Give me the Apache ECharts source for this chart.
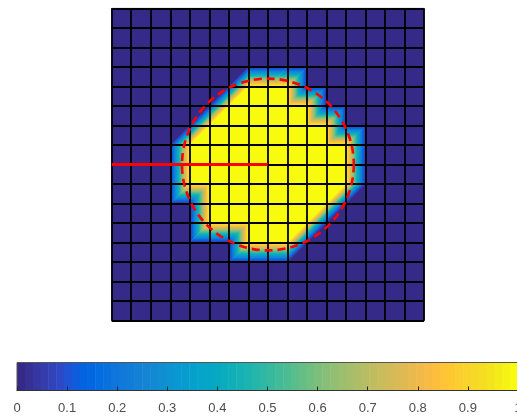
<!DOCTYPE html>
<html><head><meta charset="utf-8">
<script src="https://cdn.jsdelivr.net/npm/echarts@6/dist/echarts.min.js"></script>
<style>html,body{margin:0;padding:0;background:#fff;}#c{width:517px;height:417px;}</style>
</head><body><div id="c"></div>
<script>
// node values (17 x 17), row 0 = top of the picture
const nodeValues = [
  [0,0,0,0,0,0,0,0,0,0,0,0,0,0,0,0,0],
  [0,0,0,0,0,0,0,0,0,0,0,0,0,0,0,0,0],
  [0,0,0,0,0,0,0,0,0,0,0,0,0,0,0,0,0],
  [0,0,0,0,0,0,0,0,0,0,0,0,0,0,0,0,0],
  [0,0,0,0,0,0,0,1,1,1,0,0,0,0,0,0,0],
  [0,0,0,0,0,0,1,1,1,1,1,0,0,0,0,0,0],
  [0,0,0,0,0,1,1,1,1,1,1,1,0,0,0,0,0],
  [0,0,0,0,1,1,1,1,1,1,1,1,1,0,0,0,0],
  [0,0,0,0,1,1,1,1,1,1,1,1,1,0,0,0,0],
  [0,0,0,0,1,1,1,1,1,1,1,1,1,0,0,0,0],
  [0,0,0,0,0,1,1,1,1,1,1,1,0,0,0,0,0],
  [0,0,0,0,0,1,1,1,1,1,1,0,0,0,0,0,0],
  [0,0,0,0,0,0,0,1,1,1,0,0,0,0,0,0,0],
  [0,0,0,0,0,0,0,0,0,0,0,0,0,0,0,0,0],
  [0,0,0,0,0,0,0,0,0,0,0,0,0,0,0,0,0],
  [0,0,0,0,0,0,0,0,0,0,0,0,0,0,0,0,0],
  [0,0,0,0,0,0,0,0,0,0,0,0,0,0,0,0,0]
];
const circleCenter = [8, 8];
const circleRadius = 4.4;
const profileLine = [[0, 8], [8, 8]];
const colorbarTickLabels = ['0','0.1','0.2','0.3','0.4','0.5','0.6','0.7','0.8','0.9','1'];
const parula = [
[0.2081,0.1663,0.5292],[0.2116,0.1898,0.5777],[0.2123,0.2138,0.6270],[0.2081,0.2386,0.6771],
[0.1959,0.2645,0.7279],[0.1707,0.2919,0.7792],[0.1253,0.3242,0.8303],[0.0591,0.3598,0.8683],
[0.0117,0.3875,0.8820],[0.0060,0.4086,0.8828],[0.0165,0.4266,0.8786],[0.0329,0.4430,0.8720],
[0.0498,0.4586,0.8641],[0.0629,0.4737,0.8554],[0.0723,0.4887,0.8467],[0.0779,0.5040,0.8384],
[0.0793,0.5200,0.8312],[0.0749,0.5375,0.8263],[0.0641,0.5570,0.8240],[0.0488,0.5772,0.8228],
[0.0343,0.5966,0.8199],[0.0265,0.6137,0.8135],[0.0239,0.6287,0.8038],[0.0231,0.6418,0.7913],
[0.0228,0.6535,0.7768],[0.0267,0.6642,0.7607],[0.0384,0.6743,0.7436],[0.0590,0.6838,0.7254],
[0.0843,0.6928,0.7062],[0.1133,0.7015,0.6859],[0.1453,0.7098,0.6646],[0.1801,0.7177,0.6424],
[0.2178,0.7250,0.6193],[0.2586,0.7317,0.5954],[0.3022,0.7376,0.5712],[0.3482,0.7424,0.5473],
[0.3953,0.7459,0.5244],[0.4420,0.7481,0.5033],[0.4871,0.7491,0.4840],[0.5300,0.7491,0.4661],
[0.5709,0.7485,0.4494],[0.6099,0.7473,0.4337],[0.6473,0.7456,0.4188],[0.6834,0.7435,0.4044],
[0.7184,0.7411,0.3905],[0.7525,0.7384,0.3768],[0.7858,0.7356,0.3633],[0.8185,0.7327,0.3498],
[0.8507,0.7299,0.3360],[0.8824,0.7274,0.3217],[0.9139,0.7258,0.3063],[0.9450,0.7261,0.2886],
[0.9739,0.7314,0.2666],[0.9938,0.7455,0.2403],[0.9990,0.7653,0.2164],[0.9955,0.7861,0.1967],
[0.9880,0.8066,0.1794],[0.9789,0.8271,0.1633],[0.9697,0.8481,0.1475],[0.9626,0.8705,0.1309],
[0.9589,0.8949,0.1132],[0.9598,0.9218,0.0948],[0.9661,0.9514,0.0755],[0.9763,0.9831,0.0538]
];

function rgb(c){return 'rgb('+Math.round(c[0]*255)+','+Math.round(c[1]*255)+','+Math.round(c[2]*255)+')';}
function colorOf(v){const k=Math.max(0,Math.min(63,Math.round(v*63)));return rgb(parula[k]);}
const stops = parula.map((c,k)=>({offset:k/63,color:rgb(c)}));

const cells = [];
for (let j=0;j<nodeValues.length-1;j++){
  for (let i=0;i<nodeValues[j].length-1;i++){
    cells.push([i,j,nodeValues[j][i],nodeValues[j][i+1],nodeValues[j+1][i],nodeValues[j+1][i+1]]);
  }
}

function triFill(P,V){
  if (V[0]===V[1] && V[1]===V[2]) return colorOf(V[0]);
  const ax=P[1][0]-P[0][0], ay=P[1][1]-P[0][1], bx=P[2][0]-P[0][0], by=P[2][1]-P[0][1];
  const dv1=V[1]-V[0], dv2=V[2]-V[0];
  const det=ax*by-ay*bx;
  const gx=(dv1*by-ay*dv2)/det, gy=(ax*dv2-bx*dv1)/det;
  const g2=gx*gx+gy*gy;
  return {type:'linear',
    x:P[0][0]-V[0]*gx/g2, y:P[0][1]-V[0]*gy/g2,
    x2:P[0][0]+(1-V[0])*gx/g2, y2:P[0][1]+(1-V[0])*gy/g2,
    colorStops:stops, global:true};
}

const chart = echarts.init(document.getElementById('c'), null, {renderer:'canvas'});
const fontFam = '"Liberation Sans", Arial, Helvetica, sans-serif';
chart.setOption({
  animation:false,
  backgroundColor:'#fff',
  grid:[
    {left:111.7, top:8.3, width:312.4, height:312.4, containLabel:false, outerBoundsMode:'none'},
    {left:17, top:362.5, width:501, height:28, containLabel:false, outerBoundsMode:'none'}
  ],
  xAxis:[
    {type:'value', gridIndex:0, min:0, max:16, interval:1, z:10,
      axisLine:{show:false}, axisTick:{show:false}, axisLabel:{show:false},
      splitLine:{show:true, lineStyle:{color:'#000', width:1.8}}},
    {type:'value', gridIndex:1, min:0, max:1, interval:0.1, z:10,
      axisLine:{show:true, lineStyle:{color:'#333', width:1}},
      axisTick:{show:true, inside:true, length:4, lineStyle:{color:'#262626', width:1}},
      axisLabel:{show:true, color:'#4d4d4d', fontSize:13, fontFamily:fontFam, margin:11,
        hideOverlap:false, showMaxLabel:true, showMinLabel:true,
        formatter:(v,idx)=>colorbarTickLabels[idx]},
      splitLine:{show:false}}
  ],
  yAxis:[
    {type:'value', gridIndex:0, min:0, max:16, interval:1, inverse:true, z:10,
      axisLine:{show:false}, axisTick:{show:false}, axisLabel:{show:false},
      splitLine:{show:true, lineStyle:{color:'#000', width:1.8}}},
    {type:'value', gridIndex:1, min:0, max:1, show:false, splitLine:{show:false}}
  ],
  series:[
    {type:'custom', xAxisIndex:0, yAxisIndex:0, z:2, data:cells, silent:true,
      encode:{x:0, y:1},
      renderItem:function(params, api){
        const i=api.value(0), j=api.value(1);
        const tl=api.coord([i,j]), tr=api.coord([i+1,j]), bl=api.coord([i,j+1]), br=api.coord([i+1,j+1]);
        const vtl=api.value(2), vtr=api.value(3), vbl=api.value(4), vbr=api.value(5);
        if (vtl===vtr && vtr===vbl && vbl===vbr){
          return {type:'rect', shape:{x:tl[0], y:tl[1], width:tr[0]-tl[0], height:bl[1]-tl[1]},
            style:{fill:colorOf(vtl), stroke:colorOf(vtl), lineWidth:0.5}};
        }
        const f1=triFill([tl,tr,bl],[vtl,vtr,vbl]);
        const f2=triFill([tr,bl,br],[vtr,vbl,vbr]);
        return {type:'group', children:[
          {type:'polygon', shape:{points:[tl,tr,bl]}, style:{fill:f1, stroke:f1, lineWidth:0.8}},
          {type:'polygon', shape:{points:[tr,bl,br]}, style:{fill:f2, stroke:f2, lineWidth:0.8}}
        ]};
      }},
    {type:'line', xAxisIndex:0, yAxisIndex:0, z:20, data:profileLine, symbol:'none', silent:true,
      lineStyle:{color:'#ff0000', width:3}},
    {type:'custom', xAxisIndex:0, yAxisIndex:0, z:21, silent:true,
      data:[[circleCenter[0], circleCenter[1], circleRadius]],
      renderItem:function(params, api){
        const c=api.coord([api.value(0), api.value(1)]);
        const r=api.size([api.value(2), 0])[0];
        return {type:'circle', shape:{cx:c[0], cy:c[1], r:r},
          style:{fill:'none', stroke:'#ff0000', lineWidth:2.6, lineDash:[8,5]}};
      }},
    {type:'custom', xAxisIndex:1, yAxisIndex:1, z:2, silent:true,
      data:parula.map((c,k)=>[k]),
      renderItem:function(params, api){
        const k=api.value(0);
        const p0=api.coord([k/parula.length, 1]);
        const p1=api.coord([(k+1)/parula.length, 0]);
        return {type:'rect', shape:{x:p0[0], y:p0[1], width:p1[0]-p0[0]+0.5, height:p1[1]-p0[1]},
          style:{fill:rgb(parula[k])}};
      }},
    {type:'custom', xAxisIndex:1, yAxisIndex:1, z:5, silent:true,
      data:[[0,1,1,0]],
      renderItem:function(params, api){
        const p0=api.coord([api.value(0), api.value(1)]);
        const p1=api.coord([api.value(2), api.value(3)]);
        return {type:'rect', shape:{x:p0[0], y:p0[1], width:p1[0]-p0[0], height:p1[1]-p0[1]},
          style:{fill:'none', stroke:'#555', lineWidth:1}};
      }}
  ]
});
</script></body></html>
